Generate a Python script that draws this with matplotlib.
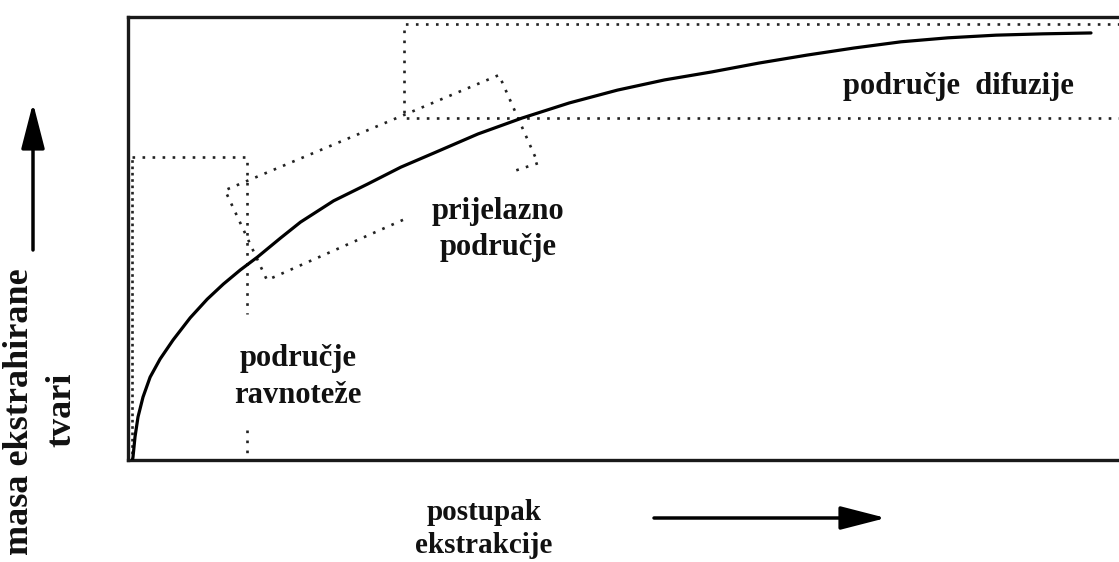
import numpy as np
import matplotlib.pyplot as plt

# extraction curve (process progress vs. extracted mass)
progress = [0.45, 0.5, 0.7, 1.0, 1.5, 2.21, 3.21, 4.51, 6.22, 7.92, 9.53, 11.23,
            12.94, 15.25, 17.25, 20.56, 23.97, 27.28, 30.59, 35.0, 39.42, 44.13,
            48.95, 53.66, 58.37, 63.09, 67.9, 72.6, 77.3, 82.0, 86.8, 91.5, 96.3]
mass = [0.0, 0.68, 5.19, 9.71, 14.2, 18.7, 22.8, 27.1, 32.1, 36.3, 39.7, 42.9,
        45.8, 50.1, 53.7, 58.5, 62.3, 66.1, 69.3, 73.6, 77.2, 80.6,
        83.5, 85.8, 87.6, 89.6, 91.4, 93.0, 94.4, 95.3, 95.9, 96.2, 96.4]

# dotted region outlines
eq_top_x = [0.4, 11.9, 11.9]
eq_top_y = [68.4, 68.4, 33.0]
eq_low_x = [11.9, 11.9]
eq_low_y = [6.8, 0.0]
eq_side_x = [0.4, 0.4]
eq_side_y = [0.0, 68.4]
diff_x = [112.0, 27.6, 27.6, 112.0]
diff_y = [98.4, 98.4, 77.2, 77.2]
trans_x = [27.5, 13.9, 9.7, 37.1, 41.0, 38.3]
trans_y = [54.2, 40.6, 60.9, 86.9, 67.0, 65.0]

region_labels = ['područje  difuzije', 'prijelazno\npodručje', 'područje\nravnoteže']
label_x = [83.0, 37.0, 17.0]
label_y = [84.4, 52.0, 18.8]

xlabel = 'postupak\nekstrakcije'
ylabel_1 = 'masa ekstrahirane'
ylabel_2 = 'tvari'

font = dict(family='Liberation Serif', weight='bold', color='#111111')

fig = plt.figure(figsize=(11.19, 5.62), dpi=100)
ax = fig.add_axes([128 / 1119, 1 - 460 / 562, 1000 / 1119, 443 / 562])
ax.set_xlim(0, 100)
ax.set_ylim(0, 100)
ax.set_xticks([])
ax.set_yticks([])
for side in ['left', 'top', 'bottom']:
    ax.spines[side].set_linewidth(2.4)
    ax.spines[side].set_color('#1a1a1a')
ax.spines['right'].set_visible(False)

ax.plot(progress, mass, color='black', lw=2.3, solid_capstyle='round', zorder=3)

dots = dict(color='#222222', lw=1.9, linestyle=(0, (1, 2.8)), clip_on=False)
ax.plot(eq_top_x, eq_top_y, **dots)
ax.plot(eq_low_x, eq_low_y, **dots)
ax.plot(eq_side_x, eq_side_y, color='#222222', lw=1.9, linestyle=(0, (1, 1.4)))
ax.plot(diff_x, diff_y, **dots)
ax.plot(trans_x, trans_y, **dots)

for txt, x, y in zip(region_labels, label_x, label_y):
    ax.text(x, y, txt, ha='center', va='center', fontsize=22,
            linespacing=1.35, **font)

# axis captions and arrows outside the frame
fig.text(484 / 1119, 1 - 529 / 562, xlabel, ha='center', va='center',
         fontsize=21, linespacing=1.25, **font)
fig.text(20 / 1119, 1 - 412 / 562, ylabel_1, ha='center', va='center',
         rotation=90, fontsize=26, **font)
fig.text(62 / 1119, 1 - 410 / 562, ylabel_2, ha='center', va='center',
         rotation=90, fontsize=26, **font)

arrow = dict(arrowstyle='-|>,head_length=1.4,head_width=0.36', lw=2.5,
             color='black', mutation_scale=20, shrinkA=0, shrinkB=0)
ax.annotate('', xy=(33 / 1119, 1 - 103 / 562), xytext=(33 / 1119, 1 - 250 / 562),
            xycoords='figure fraction', textcoords='figure fraction',
            arrowprops=arrow, annotation_clip=False)
ax.annotate('', xy=(886 / 1119, 1 - 518 / 562), xytext=(654 / 1119, 1 - 518 / 562),
            xycoords='figure fraction', textcoords='figure fraction',
            arrowprops=arrow, annotation_clip=False)

fig.savefig('out.png', dpi=100, facecolor='white')
